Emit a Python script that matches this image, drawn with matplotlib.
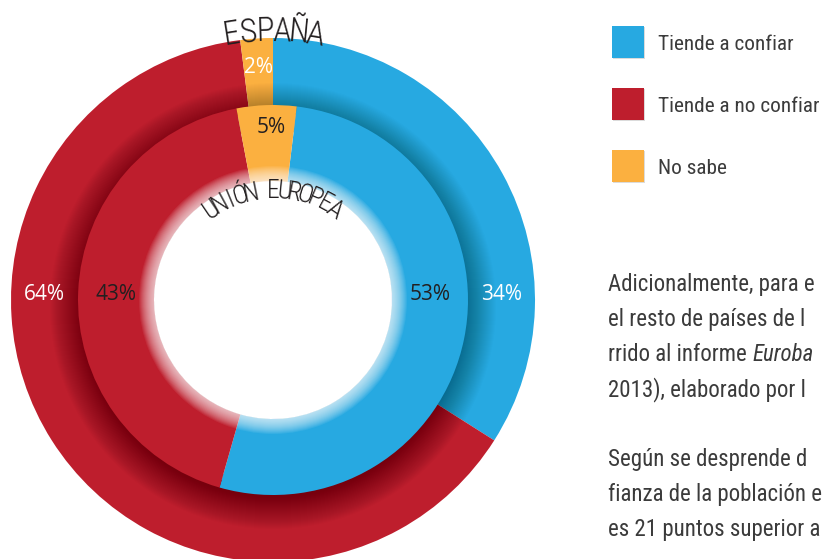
import numpy as np
import matplotlib
matplotlib.use("Agg")
import matplotlib.pyplot as plt
from matplotlib.patches import Wedge, Rectangle
from matplotlib import font_manager as fm

# ---------------- data ----------------
categories = ["Tiende a confiar", "Tiende a no confiar", "No sabe"]
colors = ["#27a9e1", "#be1e2d", "#fbb040"]
espana = [34, 64, 2]           # outer ring
union_europea = [53, 43, 5]    # inner ring
ring_names = ["ESPAÑA", "UNIÓN EUROPEA"]

paragraph = [
    ["Adicionalmente, para e"],
    ["el resto de países de l"],
    ["rrido al informe ", "Euroba"],
    ["2013), elaborado por l"],
    [""],
    ["Según se desprende d"],
    ["fianza de la población e"],
    ["es 21 puntos superior a"],
]

# ---------------- fonts ----------------
names = {f.name for f in fm.fontManager.ttflist}
stretches = {(f.name, f.stretch) for f in fm.fontManager.ttflist}
if "Roboto Condensed" in names:
    FONT = dict(family="Roboto Condensed")
elif "Liberation Sans Narrow" in names:
    FONT = dict(family="Liberation Sans Narrow")
elif ("DejaVu Sans", "condensed") in stretches:
    FONT = dict(family="DejaVu Sans", fontstretch="condensed")
else:
    FONT = dict(family="Open Sans")
LABFONT = dict(family="Open Sans") if "Open Sans" in names else FONT
TITLEFONT = dict(FONT, fontweight="light")

W, H = 824, 559
fig = plt.figure(figsize=(W / 100, H / 100), dpi=100)
ax = fig.add_axes([0, 0, 1, 1])


def Y(py):
    return H - py


cx, cy = 273, Y(300)
R_out, R_mid, R_hole = 262, 195, 119

# outer ring (Spain)
ax.pie(espana, colors=colors, radius=R_out, center=(cx, cy), startangle=90,
       counterclock=False, wedgeprops=dict(width=R_out - R_mid + 8, linewidth=0, zorder=1))

# soft shadow cast by the inner ring
sh_cy = cy - 6
for r in np.linspace(R_mid + 28, R_mid - 3, 32):
    ax.add_patch(Wedge((cx, sh_cy), r, 0, 360, width=r - 175, color="black",
                       alpha=0.011, lw=0, zorder=2))

# inner ring (EU)
ax.pie(union_europea, colors=colors, radius=R_mid, center=(cx, cy), startangle=83,
       counterclock=False, wedgeprops=dict(width=R_mid - R_hole, linewidth=0, zorder=3))

# white glow around the hole
for r in np.linspace(R_hole + 15, R_hole + 1, 15):
    ax.add_patch(Wedge((cx, cy), r, 0, 360, width=r - R_hole + 1, color="white",
                       alpha=0.075, lw=0, zorder=4))


# ---------------- value labels ----------------
def polar(r, ang):
    a = np.deg2rad(ang)
    return cx + r * np.sin(a), cy + r * np.cos(a)


mid_out = (R_out + R_mid) / 2
mid_in = (R_mid + R_hole) / 2
lab = dict(fontsize=15, ha="center", va="center", zorder=6, **LABFONT)
# blue on the right, red on the left, orange on top
for r, vals, col in [(mid_out, espana, "white"), (mid_in, union_europea, "#231f20")]:
    x, y = polar(r, 90)
    ax.text(x, y + 6, f"{vals[0]}%", color=col, **lab)
    x, y = polar(r, 270)
    ax.text(x, y + 6, f"{vals[1]}%", color=col, **lab)
x, y = polar(mid_out + 4, -3.6)
ax.text(x, y, f"{espana[2]}%", color="white", **lab)
x, y = polar(mid_in + 16, -0.5)
ax.text(x, y, f"{union_europea[2]}%", color="#231f20", **lab)


# ---------------- curved ring titles ----------------
def arc_text(s, radius, step, size):
    n = len(s)
    for i, ch in enumerate(s):
        th = (i - (n - 1) / 2) * step
        x, y = polar(radius, th)
        ax.text(x, y, ch, fontsize=size, color="#231f20", ha="center", va="baseline",
                rotation=-th, rotation_mode="anchor", zorder=7, **TITLEFONT)


arc_text(ring_names[0], 259, 3.6, 24)
arc_text(ring_names[1], 102, 5.7, 18.5)

# ---------------- legend ----------------
txt = "#3b3b3b"
for i, (c, name) in enumerate(zip(colors, categories)):
    top = 26 + i * 62
    ax.add_patch(Rectangle((613, Y(top + 33)), 32, 32, color="#999999", alpha=0.35, lw=0, zorder=5))
    ax.add_patch(Rectangle((612, Y(top + 32)), 32, 32, color=c, lw=0, zorder=6))
    ax.text(658, Y(top + 18), name, fontsize=15.3, color=txt, ha="left", va="center", **FONT)

# ---------------- clipped paragraph on the right ----------------
fig.canvas.draw()
renderer = fig.canvas.get_renderer()
for k, parts in enumerate(paragraph):
    base = Y(291 + 35 * k)
    x = 608
    for j, part in enumerate(parts):
        style = "italic" if j == 1 else "normal"
        t = ax.text(x, base, part, fontsize=16.5, color=txt, ha="left", va="baseline",
                    fontstyle=style, **FONT)
        if j == 0 and len(parts) > 1:
            bb = t.get_window_extent(renderer)
            x = x + bb.width

ax.set_xlim(0, W)
ax.set_ylim(0, H)
ax.set_aspect("equal")
ax.axis("off")
fig.savefig("out.png", dpi=100)
